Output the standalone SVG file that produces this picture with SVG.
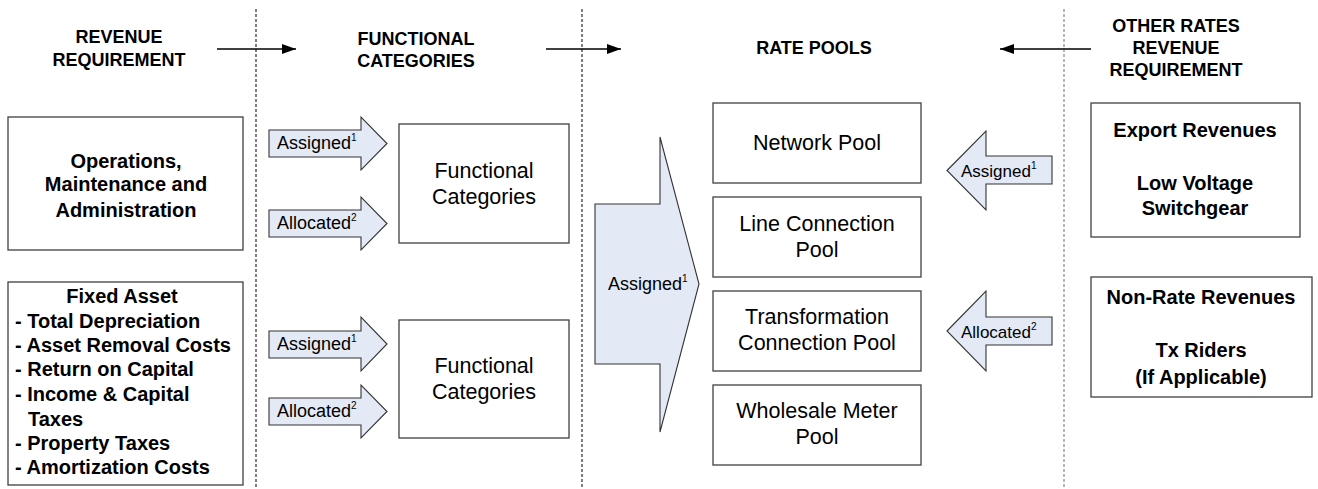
<svg xmlns="http://www.w3.org/2000/svg" width="1318" height="489" viewBox="0 0 1318 489">
<style>
.hdr{font-family:"Liberation Sans",Arial,sans-serif;font-weight:bold;font-size:18px;fill:#000;text-anchor:middle}
.bb{font-family:"Liberation Sans",Arial,sans-serif;font-weight:bold;font-size:20px;fill:#000;text-anchor:middle}
.bl{font-family:"Liberation Sans",Arial,sans-serif;font-weight:bold;font-size:20px;fill:#000}
.rg{font-family:"Liberation Sans",Arial,sans-serif;font-size:21.5px;fill:#000;text-anchor:middle}
.at{font-family:"Liberation Sans",Arial,sans-serif;font-size:18px;fill:#000}
.at2{font-family:"Liberation Sans",Arial,sans-serif;font-size:17px;fill:#000}
.sup{font-size:10px}
.box{fill:#fff;stroke:#404040;stroke-width:1.3}
.arr{fill:#e3e9f5;stroke:#333;stroke-width:1.1}
.dash{stroke:#000;stroke-width:1;stroke-dasharray:3,2;fill:none}
.dashg{stroke:#888;stroke-width:1.2;stroke-dasharray:3,2;fill:none}
.flow{stroke:#000;stroke-width:1.3;fill:none}
</style>
<defs>
<marker id="ah" markerWidth="14" markerHeight="10" refX="14" refY="5" orient="auto" markerUnits="userSpaceOnUse">
<path d="M0,0 L14,5 L0,10 Z" fill="#000"/>
</marker>
</defs>

<g id="dividers">
<line class="dash" x1="256" y1="9" x2="256" y2="489"/>
<line class="dash" x1="582" y1="9" x2="582" y2="489"/>
<line class="dashg" x1="1064" y1="9" x2="1064" y2="489"/>
</g>

<g id="headers">
<text class="hdr" x="119" y="43">REVENUE</text>
<text class="hdr" x="119" y="66">REQUIREMENT</text>
<text class="hdr" x="416" y="45">FUNCTIONAL</text>
<text class="hdr" x="416" y="67">CATEGORIES</text>
<text class="hdr" x="814" y="54">RATE POOLS</text>
<text class="hdr" x="1176" y="32">OTHER RATES</text>
<text class="hdr" x="1176" y="54">REVENUE</text>
<text class="hdr" x="1176" y="76">REQUIREMENT</text>
</g>

<g id="connectors">
<line class="flow" x1="217" y1="49" x2="296" y2="49" marker-end="url(#ah)"/>
<line class="flow" x1="546" y1="49" x2="621" y2="49" marker-end="url(#ah)"/>
<line class="flow" x1="1091" y1="49" x2="1000" y2="49" marker-end="url(#ah)"/>
<g id="arrow-assigned-1">
<polygon class="arr" points="269,130 361,130 361,117 387,143.5 361,170 361,157 269,157"/>
<text class="at" x="277" y="149">Assigned<tspan class="sup" dy="-8">1</tspan></text>
</g>
<g id="arrow-allocated-1">
<polygon class="arr" points="269,210 361,210 361,197 387,223.5 361,250 361,237 269,237"/>
<text class="at" x="277" y="229">Allocated<tspan class="sup" dy="-8">2</tspan></text>
</g>
<g id="arrow-assigned-2">
<polygon class="arr" points="269,331 361,331 361,317 387,344 361,371 361,358 269,358"/>
<text class="at" x="277" y="350">Assigned<tspan class="sup" dy="-8">1</tspan></text>
</g>
<g id="arrow-allocated-2">
<polygon class="arr" points="269,398 361,398 361,385 387,411.5 361,438 361,425 269,425"/>
<text class="at" x="277" y="417">Allocated<tspan class="sup" dy="-8">2</tspan></text>
</g>
<g id="arrow-big-assigned">
<polygon class="arr" points="595,204 660,204 660,137 699,284 660,432 660,364 595,364"/>
<text class="at" x="608" y="290">Assigned<tspan class="sup" dy="-8">1</tspan></text>
</g>
<g id="arrow-left-assigned">
<polygon class="arr" points="947,170.5 986,131 986,156 1052,156 1052,184 986,184 986,210"/>
<text class="at2" x="961" y="177">Assigned<tspan class="sup" dy="-8">1</tspan></text>
</g>
<g id="arrow-left-allocated">
<polygon class="arr" points="947,331 986,291 986,317 1052,317 1052,345 986,345 986,371"/>
<text class="at2" x="961" y="338">Allocated<tspan class="sup" dy="-8">2</tspan></text>
</g>
</g>

<g id="node-oma">
<rect class="box" x="8" y="117" width="235" height="133"/>
<text class="bb" x="126" y="168">Operations,</text>
<text class="bb" x="126" y="191">Maintenance and</text>
<text class="bb" x="126" y="217">Administration</text>
</g>

<g id="node-fixed-asset">
<rect class="box" x="8" y="282" width="235" height="203"/>
<text class="bb" x="122" y="303">Fixed Asset</text>
<text class="bl" x="15" y="328">- Total Depreciation</text>
<text class="bl" x="15" y="352">- Asset Removal Costs</text>
<text class="bl" x="15" y="376">- Return on Capital</text>
<text class="bl" x="15" y="401">- Income &amp; Capital</text>
<text class="bl" x="28" y="426">Taxes</text>
<text class="bl" x="15" y="450">- Property Taxes</text>
<text class="bl" x="15" y="474">- Amortization Costs</text>
</g>

<g id="node-functional-1">
<rect class="box" x="399" y="124" width="170" height="119"/>
<text class="rg" x="484" y="178">Functional</text>
<text class="rg" x="484" y="204">Categories</text>
</g>

<g id="node-functional-2">
<rect class="box" x="399" y="320" width="170" height="118"/>
<text class="rg" x="484" y="373">Functional</text>
<text class="rg" x="484" y="399">Categories</text>
</g>

<g id="node-network-pool">
<rect class="box" x="713" y="103" width="208" height="80"/>
<text class="rg" x="817" y="150">Network Pool</text>
</g>

<g id="node-line-connection-pool">
<rect class="box" x="713" y="197" width="208" height="80"/>
<text class="rg" x="817" y="231">Line Connection</text>
<text class="rg" x="817" y="257">Pool</text>
</g>

<g id="node-transformation-pool">
<rect class="box" x="713" y="291" width="208" height="80"/>
<text class="rg" x="817" y="324">Transformation</text>
<text class="rg" x="817" y="350">Connection Pool</text>
</g>

<g id="node-wholesale-meter-pool">
<rect class="box" x="713" y="385" width="208" height="80"/>
<text class="rg" x="817" y="418">Wholesale Meter</text>
<text class="rg" x="817" y="444">Pool</text>
</g>

<g id="node-export-revenues">
<rect class="box" x="1091" y="103" width="209" height="134"/>
<text class="bb" x="1195" y="137">Export Revenues</text>
<text class="bb" x="1195" y="190">Low Voltage</text>
<text class="bb" x="1195" y="215">Switchgear</text>
</g>

<g id="node-non-rate-revenues">
<rect class="box" x="1091" y="277" width="221" height="120"/>
<text class="bb" x="1201" y="304">Non-Rate Revenues</text>
<text class="bb" x="1201" y="357">Tx Riders</text>
<text class="bb" x="1201" y="384">(If Applicable)</text>
</g>
</svg>
